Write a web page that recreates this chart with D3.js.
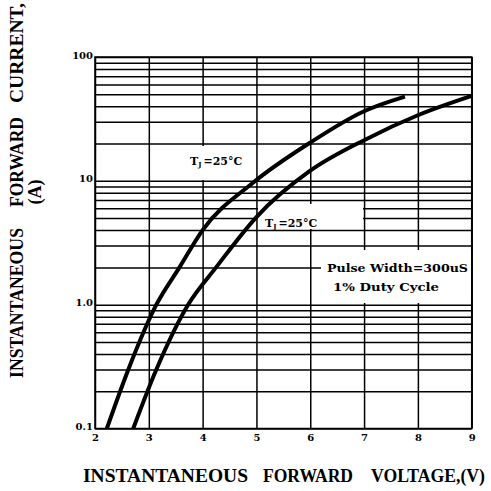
<!DOCTYPE html>
<html>
<head>
<meta charset="utf-8">
<script src="https://cdn.jsdelivr.net/npm/d3@7"></script>
<style>
  body { margin: 0; background: #fff; }
  svg { display: block; }
  text { font-family: "DejaVu Serif", "Liberation Serif", serif; font-weight: bold; fill: #000; }
</style>
</head>
<body>
<div id="chart"></div>
<script>
// tick values
const voltTicks = [2, 3, 4, 5, 6, 7, 8, 9]
const decades = [0.1, 1, 10, 100]
const decadeLabels = ['0.1', '1.0', '10', '100']

// upper curve (label "TJ =25°C" at top)
const upperV = [2.22, 2.62, 3.14, 3.57, 4.0, 4.93, 5.98, 7.0, 7.76]
const upperI = [0.1, 0.3, 1.0, 2.0, 4.0, 9.6, 20.1, 36.5, 47.9]

// lower curve (label "TJ =25°C" below)
const lowerV = [2.71, 3.14, 3.73, 4.25, 5.0, 5.98, 7.01, 8.01, 9.0]
const lowerI = [0.1, 0.3, 1.0, 2.0, 5.1, 11.9, 21.4, 34, 48.5]

const width = 491
const height = 491
const plotL = 95, plotR = 471.7, plotT = 57, plotB = 428.5

const svg = d3.select('#chart').append('svg')
  .attr('width', width)
  .attr('height', height)

const x = d3.scaleLinear().domain([2, 9]).range([plotL, plotR])
const y = d3.scaleLog().domain([0.1, 100]).range([plotB, plotT])

// every log grid line 0.1..100
const yGrid = []
decades.slice(0, 3).forEach(d => {
  for (let k = 1; k < 10; k++) yGrid.push(+(d * k).toPrecision(3))
})
yGrid.push(100)

const gridStyle = g => {
  g.select('.domain').remove()
  g.selectAll('.tick line').attr('stroke', '#000').attr('stroke-width', 1.5)
  g.selectAll('.tick text')
    .style('font-family', '"DejaVu Serif", serif')
    .style('font-weight', 'bold')
    .style('font-size', '10px')
    .attr('fill', '#000')
}

svg.append('g')
  .attr('transform', `translate(0,${plotB})`)
  .call(d3.axisBottom(x).tickValues(voltTicks).tickSize(-(plotB - plotT)).tickPadding(5).tickFormat(d3.format('d')))
  .call(gridStyle)

svg.append('g')
  .attr('transform', `translate(${plotL},0)`)
  .call(d3.axisLeft(y).tickValues(yGrid).tickSize(-(plotR - plotL)).tickPadding(2)
    .tickFormat(d => {
      const i = decades.indexOf(d)
      return i >= 0 ? decadeLabels[i] : ''
    }))
  .call(gridStyle)
  .selectAll('.tick text').attr('dy', '0.1em')

svg.append('rect')
  .attr('x', plotL).attr('y', plotT)
  .attr('width', plotR - plotL).attr('height', plotB - plotT)
  .attr('fill', 'none').attr('stroke', '#000').attr('stroke-width', 1.5)

// white label boxes over the grid
const boxes = [
  [156, 146, 96, 34],
  [258, 204, 105, 25],
  [321, 250, 150, 53]
]
svg.selectAll('rect.box').data(boxes).enter().append('rect')
  .attr('class', 'box')
  .attr('x', d => d[0]).attr('y', d => d[1])
  .attr('width', d => d[2]).attr('height', d => d[3])
  .attr('fill', '#fff')

const line = d3.line()
  .x(d => x(d[0]))
  .y(d => y(d[1]))
  .curve(d3.curveMonotoneX)

const curves = [d3.zip(upperV, upperI), d3.zip(lowerV, lowerI)]
svg.selectAll('path.curve').data(curves).enter().append('path')
  .attr('class', 'curve')
  .attr('d', line)
  .attr('fill', 'none')
  .attr('stroke', '#000')
  .attr('stroke-width', 4)

// curve labels
const tj = (px, py) => {
  const t = svg.append('text').attr('x', px).attr('y', py).style('font-size', '11px')
  t.append('tspan').text('T')
  t.append('tspan').attr('dy', 2).style('font-size', '7px').text('J')
  t.append('tspan').attr('dy', -2).attr('dx', 2).text('=25°C')
}
tj(190, 165)
tj(265, 227)

svg.append('text').attr('x', 327).attr('y', 272)
  .attr('textLength', 141).attr('lengthAdjust', 'spacingAndGlyphs')
  .style('font-size', '11px').text('Pulse Width=300uS')
svg.append('text').attr('x', 333).attr('y', 291)
  .attr('textLength', 106).attr('lengthAdjust', 'spacingAndGlyphs')
  .style('font-size', '11px').text('1% Duty Cycle')

// axis titles
const xWords = [['INSTANTANEOUS', 83, 165], ['FORWARD', 263, 90], ['VOLTAGE,(V)', 371, 114]]
svg.selectAll('text.xt').data(xWords).enter().append('text')
  .attr('class', 'xt')
  .attr('transform', d => `translate(${d[1]},482) scale(1,1.2)`)
  .attr('textLength', d => d[2]).attr('lengthAdjust', 'spacingAndGlyphs')
  .style('font-family', '"Liberation Serif", serif')
  .style('font-size', '16px')
  .text(d => d[0])

const yWords = [['INSTANTANEOUS', 378, 150], ['FORWARD', 207, 90], ['CURRENT,', 103, 100]]
svg.selectAll('text.yt').data(yWords).enter().append('text')
  .attr('class', 'yt')
  .attr('transform', d => `translate(23,${d[1]}) rotate(-90) scale(1,1.2)`)
  .attr('textLength', d => d[2]).attr('lengthAdjust', 'spacingAndGlyphs')
  .style('font-family', '"Liberation Serif", serif')
  .style('font-size', '16px')
  .text(d => d[0])

svg.append('text')
  .attr('transform', 'translate(41,192) rotate(-90)')
  .attr('text-anchor', 'middle')
  .style('font-family', '"Liberation Serif", serif')
  .style('font-size', '18px')
  .text('(A)')
</script>
</body>
</html>
